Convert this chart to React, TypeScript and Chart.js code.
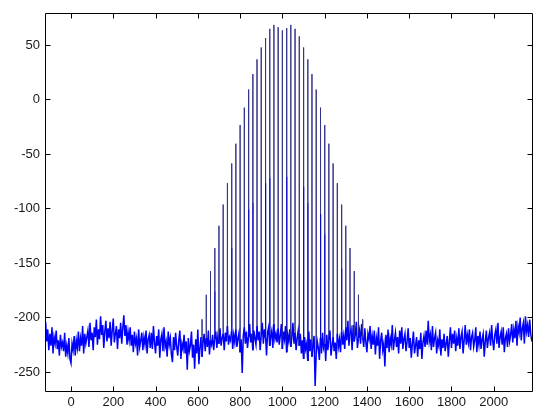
import { useEffect, useRef } from "react";
import { Chart, registerables } from "chart.js";

Chart.register(...registerables);

// Sampled signal: noise floor, first sample at xStart, one sample every xStep
const xStart = -120;
const xStep = 5;
const noise = [
  -204,-222,-211,-230,-215,-226,-209,-233,-218,-224,-212,-229,-221,-235,-216,-227,-223,-231,-214,-236,
  -226,-233,-219,-238,-242,-224,-230,-217,-235,-221,-228,-213,-231,-219,-226,-208,-233,-215,-224,-218,
  -212,-227,-205,-221,-214,-230,-209,-218,-202,-225,-211,-220,-199,-216,-207,-228,-213,-203,-222,-210,
  -219,-204,-226,-212,-201,-223,-215,-208,-229,-211,-219,-205,-224,-210,-198,-217,-207,-225,-213,-221,
  -209,-226,-216,-232,-213,-224,-219,-235,-211,-227,-221,-214,-230,-218,-225,-212,-233,-220,-216,-228,
  -214,-229,-208,-223,-233,-217,-226,-211,-237,-220,-215,-231,-209,-227,-222,-236,-213,-225,-219,-234,
  -241,-218,-230,-214,-227,-235,-221,-212,-238,-224,-229,-216,-233,-222,-248,-219,-231,-226,-213,-237,
  -225,-247,-220,-233,-211,-243,-228,-218,-236,-222,-215,-231,-219,-227,-212,-234,-221,-225,-216,-230,
  -220,-213,-228,-217,-224,-210,-226,-219,-215,-230,-214,-222,-208,-225,-218,-221,-212,-229,-216,-223,
  -211,-227,-219,-214,-232,-220,-251,-217,-209,-224,-213,-228,-218,-206,-223,-215,-230,-212,-219,-225,
  -208,-221,-213,-230,-216,-205,-224,-211,-219,-235,-214,-209,-226,-217,-212,-228,-206,-220,-215,-223,
  -210,-225,-217,-206,-229,-213,-220,-208,-232,-216,-222,-211,-227,-218,-205,-224,-214,-230,-219,-212,
  -226,-215,-233,-221,-238,-218,-229,-224,-240,-213,-231,-220,-236,-225,-217,-263,-234,-222,-228,-239,
  -219,-233,-214,-228,-224,-240,-216,-230,-221,-212,-235,-226,-218,-231,-223,-238,-215,-227,-220,-232,
  -213,-225,-217,-229,-209,-221,-203,-226,-215,-211,-230,-207,-222,-216,-204,-228,-219,-212,-224,-206,
  -218,-227,-210,-223,-232,-215,-220,-208,-229,-217,-225,-212,-234,-219,-226,-209,-238,-221,-214,-230,
  -224,-245,-216,-228,-211,-232,-219,-225,-207,-230,-221,-214,-227,-218,-233,-212,-224,-209,-229,-220,
  -215,-231,-222,-210,-228,-219,-237,-224,-213,-233,-226,-218,-236,-221,-229,-214,-238,-223,-217,-227,
  -212,-225,-203,-222,-216,-230,-208,-227,-219,-214,-233,-221,-226,-211,-235,-220,-228,-215,-231,-224,
  -217,-236,-222,-209,-228,-215,-224,-212,-231,-219,-226,-210,-229,-218,-213,-233,-221,-207,-225,-216,
  -223,-211,-230,-218,-214,-227,-221,-209,-232,-217,-225,-213,-229,-220,-215,-236,-222,-212,-228,-219,
  -214,-226,-207,-221,-230,-216,-211,-224,-205,-228,-218,-213,-225,-209,-232,-219,-215,-227,-210,-222,
  -216,-206,-223,-211,-219,-203,-226,-208,-214,-200,-221,-210,-205,-224,-199,-213,-207,-218,-202,-215,
  -222,
];

// Main spikes (position, peak value)
const spikeX = [
  620, 640, 660, 680, 700, 720, 740, 760, 780, 800, 820, 840, 860, 880, 900, 920, 940, 960, 980, 1000,
  1020, 1040, 1060, 1080, 1100, 1120, 1140, 1160, 1180, 1200, 1220, 1240, 1260, 1280, 1300, 1320, 1340, 1360, 1380,
];
const spikeY = [
  -201.7, -179.2, -157.5, -136.4, -115.9, -96.4, -76.8, -58.7, -40.6, -23.5, -7.5, 9.1, 23.3, 36.8, 47.7, 56.3, 64.8, 68.4, 66.3, 63.3,
  65.4, 68.4, 64.8, 57.9, 47.7, 36.8, 23.3, 9.1, -7.5, -23.5, -40.6, -58.7, -76.8, -96.4, -115.9, -136.4, -157.5, -179.2, -201.7,
];

// Secondary (neighbouring) samples next to some spikes
const secX = [680, 760, 840, 860, 920, 940, 1020, 1100, 1120, 1180, 1200, 1280];
const secY = [-176, -136, -101, -95, -77, -72, -71, -80, -95, -105, -124, -155];

const xTicks = [0, 200, 400, 600, 800, 1000, 1200, 1400, 1600, 1800, 2000];
const yTicks = [-250, -200, -150, -100, -50, 0, 50];

const xMin = -123;
const xMax = 2181;
const yMin = -267.5;
const yMax = 79.5;

type P = { x: number; y: number; k: number };

function buildPoints(): P[] {
  const pts: P[] = [];
  noise.forEach((n, i) => {
    const x = xStart + i * xStep;
    pts.push({ x, y: n, k: 0 });
    const si = spikeX.indexOf(x);
    if (si >= 0) {
      pts.push({ x, y: spikeY[si], k: 1 });
      const ci = secX.indexOf(x);
      if (ci >= 0) {
        pts.push({ x: x + 1, y: secY[ci], k: 2 });
        pts.push({ x: x + 1, y: n, k: 0 });
      } else {
        pts.push({ x, y: n, k: 0 });
      }
    }
  });
  return pts;
}

const NOISE_COLOR = "#0000ff";
const SPIKE_COLOR = "#34348a";
const SEC_COLOR = "#0808c8";

const framePlugin = {
  id: "matlabFrame",
  afterDraw(chart: any) {
    const { ctx, chartArea: a, scales } = chart;
    ctx.save();
    ctx.strokeStyle = "#000";
    ctx.lineWidth = 1;
    ctx.beginPath();
    const L = Math.round(a.left) + 0.5;
    const R = Math.round(a.right) + 0.5;
    const T = Math.round(a.top) + 0.5;
    const B = Math.round(a.bottom) + 0.5;
    ctx.moveTo(L, T);
    ctx.lineTo(R, T);
    ctx.lineTo(R, B);
    ctx.lineTo(L, B);
    ctx.closePath();
    const tl = 5;
    xTicks.forEach((v) => {
      const px = Math.round(scales.x.getPixelForValue(v)) + 0.5;
      ctx.moveTo(px, B);
      ctx.lineTo(px, B - tl);
      ctx.moveTo(px, T);
      ctx.lineTo(px, T + tl);
    });
    yTicks.forEach((v) => {
      const py = Math.round(scales.y.getPixelForValue(v)) + 0.5;
      ctx.moveTo(L, py);
      ctx.lineTo(L + tl, py);
      ctx.moveTo(R, py);
      ctx.lineTo(R - tl, py);
    });
    ctx.stroke();
    ctx.restore();
  },
};

export default function App() {
  const ref = useRef<HTMLCanvasElement | null>(null);

  useEffect(() => {
    document.body.style.margin = "0";
    const canvas = ref.current;
    if (!canvas) return;
    const pts = buildPoints();
    const tickFont = { family: "'Liberation Sans', Arial, sans-serif", size: 13 };
    const chart = new Chart(canvas, {
      type: "line",
      data: {
        datasets: [
          {
            data: pts.map((p) => ({ x: p.x, y: p.y })),
            borderColor: NOISE_COLOR,
            borderWidth: 1,
            pointRadius: 0,
            tension: 0,
            fill: false,
            segment: {
              borderColor: (c: any) => {
                const a = pts[c.p0DataIndex];
                const b = pts[c.p1DataIndex];
                if (a.k === 1 || b.k === 1) return SPIKE_COLOR;
                if (a.k === 2 || b.k === 2) return SEC_COLOR;
                return NOISE_COLOR;
              },
              borderWidth: (c: any) => {
                const a = pts[c.p0DataIndex];
                const b = pts[c.p1DataIndex];
                if (a.k === 1 || b.k === 1) return 1;
                if (a.k === 2 || b.k === 2) return 1.2;
                return 1.5;
              },
            },
          },
        ],
      },
      options: {
        responsive: false,
        animation: false,
        events: [],
        layout: { padding: { left: 0, top: 7, right: 12, bottom: 0 } },
        plugins: { legend: { display: false }, tooltip: { enabled: false } },
        scales: {
          x: {
            type: "linear",
            min: xMin,
            max: xMax,
            grid: { display: false, drawTicks: false },
            border: { display: false },
            afterBuildTicks: (s: any) => {
              s.ticks = xTicks.map((v) => ({ value: v }));
            },
            afterFit: (s: any) => {
              s.height = 18;
            },
            ticks: {
              autoSkip: false,
              maxRotation: 0,
              padding: 4,
              color: "#1a1a1a",
              font: tickFont,
              callback: (v: any) => String(v),
            },
          },
          y: {
            type: "linear",
            min: yMin,
            max: yMax,
            grid: { display: false, drawTicks: false },
            border: { display: false },
            afterBuildTicks: (s: any) => {
              s.ticks = yTicks.map((v) => ({ value: v }));
            },
            afterFit: (s: any) => {
              s.width = 45;
            },
            ticks: {
              autoSkip: false,
              padding: 5,
              color: "#1a1a1a",
              font: tickFont,
              callback: (v: any) => String(v),
            },
          },
        },
      },
      plugins: [framePlugin],
    });
    return () => chart.destroy();
  }, []);

  return (
    <div style={{ position: "absolute", left: 0, top: 0, width: 544, height: 409, background: "#fff" }}>
      <canvas ref={ref} width={544} height={409} style={{ display: "block" }} />
    </div>
  );
}
